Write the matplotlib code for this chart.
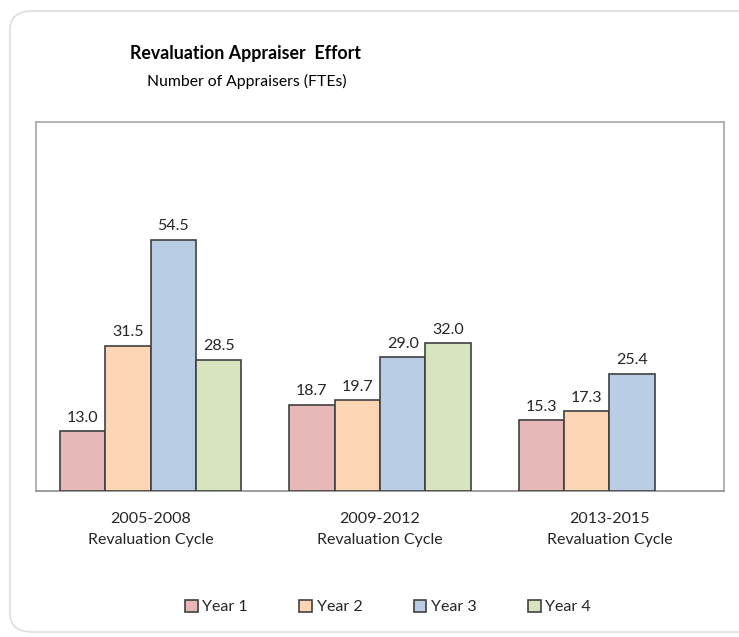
import matplotlib
matplotlib.use("Agg")
import matplotlib.pyplot as plt
from matplotlib.patches import FancyBboxPatch, Patch
import numpy as np

plt.rcParams['font.family'] = ['Lato', 'DejaVu Sans']

categories = ["2005-2008\nRevaluation Cycle", "2009-2012\nRevaluation Cycle", "2013-2015\nRevaluation Cycle"]
series_names = ["Year 1", "Year 2", "Year 3", "Year 4"]
year1 = [13.0, 18.7, 15.3]
year2 = [31.5, 19.7, 17.3]
year3 = [54.5, 29.0, 25.4]
year4 = [28.5, 32.0, None]
colors = ["#E6B9B8", "#FCD5B5", "#B9CDE5", "#D7E4BD"]

W, H = 739, 637
fig = plt.figure(figsize=(W/100, H/100), dpi=100)

# rounded outer border
border = FancyBboxPatch((10/W, 5/H), (760-10)/W, (626-5)/H,
                        boxstyle="round,pad=0,rounding_size=0.03",
                        transform=fig.transFigure, facecolor="white",
                        edgecolor="#D9D9D9", linewidth=1.0, zorder=0)
fig.patches.append(border)

ax = fig.add_axes([36/W, 1-491/H, 688/W, 369/H])
ax.set_zorder(2)

x = np.arange(len(categories))
bw = 0.198
offsets = (np.arange(4) - 1.5) * bw
for i, (vals, c, name) in enumerate(zip([year1, year2, year3, year4], colors, series_names)):
    for j, v in enumerate(vals):
        if v is None:
            continue
        ax.bar(x[j] + offsets[i], v, width=bw, color=c, edgecolor="#404040", linewidth=1.2, zorder=3)
        ax.text(x[j] + offsets[i], v + 1.4, f"{v:.1f}", ha="center", va="bottom",
                fontsize=11.5, color="#262626")

ax.set_xlim(-0.5, 2.5)
ax.set_ylim(0, 80)
ax.set_yticks([])
ax.set_xticks(x)
ax.set_xticklabels(categories, fontsize=11.5, color="#262626", linespacing=1.65)
ax.tick_params(axis="x", length=0, pad=15)
for s in ax.spines.values():
    s.set_color("#A6A6A6")
    s.set_linewidth(1.2)
ax.spines["bottom"].set_color("#8C8C8C")

fig.text(246/W, 1-53/H, "Revaluation Appraiser  Effort", ha="center", va="center",
         fontsize=12.8, fontweight="bold", color="black")
fig.text(247/W, 1-81/H, "Number of Appraisers (FTEs)", ha="center", va="center",
         fontsize=11.3, color="black")

handles = [Patch(facecolor=c, edgecolor="#404040", linewidth=1.2, label=n) for c, n in zip(colors, series_names)]
fig.legend(handles=handles, loc="center", bbox_to_anchor=(388/W, 1-607/H), ncol=4,
           frameon=False, fontsize=11.5, handlelength=0.8, handleheight=0.8,
           handletextpad=0.3, columnspacing=3.2, labelcolor="#262626")

fig.savefig("out.png", dpi=100)
